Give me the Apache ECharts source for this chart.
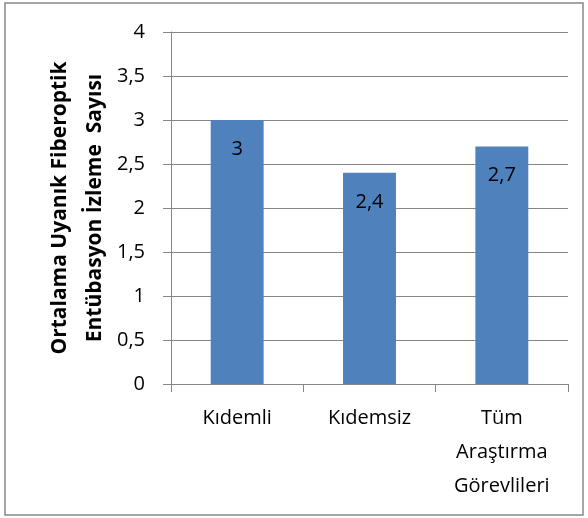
<!DOCTYPE html>
<html>
<head>
<meta charset="utf-8">
<script src="https://cdn.jsdelivr.net/npm/echarts@6/dist/echarts.min.js"></script>
<style>
  html, body { margin: 0; padding: 0; background: #fff; }
  #chart { width: 588px; height: 518px; }
</style>
</head>
<body>
<div id="chart"></div>
<script>
// kategoriler ve ortalama değerler
const categories = ['Kıdemli', 'Kıdemsiz', 'Tüm\nAraştırma\nGörevlileri'];
const values = [3, 2.4, 2.7];
const yTitle = 'Ortalama Uyanık Fiberoptik\nEntübasyon İzleme  Sayısı';

const FONT = 'Open Sans';
const comma = v => String(v).replace('.', ',');

const chart = echarts.init(document.getElementById('chart'));
chart.setOption({
  animation: false,
  backgroundColor: '#fff',
  textStyle: { fontFamily: FONT },
  graphic: [
    {
      type: 'rect',
      shape: { x: 5, y: 3, width: 578, height: 512 },
      style: { fill: 'none', stroke: '#888', lineWidth: 1.5 }
    },
    {
      type: 'text',
      x: 78, y: 208,
      rotation: Math.PI / 2,
      style: {
        text: yTitle,
        align: 'center',
        verticalAlign: 'middle',
        font: 'bold 21px "Open Sans"',
        lineHeight: 35,
        fill: '#000'
      }
    }
  ],
  grid: { left: 171, right: 20, top: 32, bottom: 134 },
  xAxis: {
    type: 'category',
    data: categories,
    axisLine: { lineStyle: { color: '#868686', width: 1 } },
    axisTick: { show: true, length: 8, lineStyle: { color: '#868686' } },
    axisLabel: { color: '#000', fontSize: 20, margin: 17, lineHeight: 34 }
  },
  yAxis: {
    type: 'value',
    min: 0, max: 4, interval: 0.5,
    axisLine: { show: true, lineStyle: { color: '#868686' } },
    axisTick: { show: true, length: 8, lineStyle: { color: '#868686' } },
    splitLine: { lineStyle: { color: '#868686', width: 1 } },
    axisLabel: { color: '#000', fontSize: 20, margin: 26, formatter: comma }
  },
  series: [{
    type: 'bar',
    data: values,
    barWidth: '40%',
    itemStyle: { color: '#4F81BD' },
    label: {
      show: true,
      position: 'insideTop',
      distance: 19,
      color: '#000',
      fontSize: 20,
      formatter: p => comma(p.value)
    }
  }]
});
</script>
</body>
</html>
